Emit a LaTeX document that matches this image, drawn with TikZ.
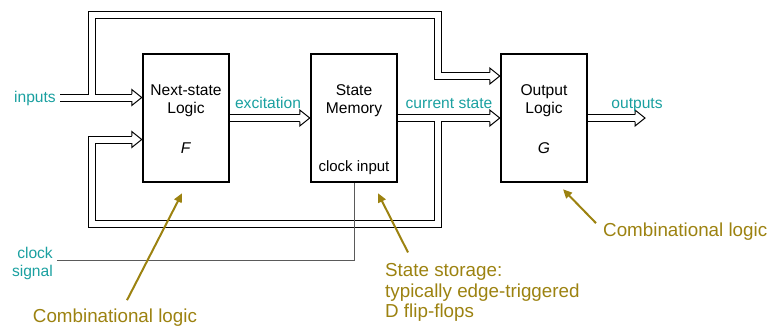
\documentclass[tikz,border=0pt]{standalone}
\usepackage{fontspec}
\setmainfont{Liberation Sans}
\usetikzlibrary{arrows.meta,calc}
\definecolor{sigcol}{RGB}{26,160,160}
\definecolor{notecol}{RGB}{156,130,16}
\definecolor{clkcol}{RGB}{90,90,90}
\tikzset{
  block/.style={draw, line width=2.5pt, minimum width=86pt, minimum height=128pt, inner sep=0pt},
  txt/.style={inner sep=0pt, font=\fontsize{15.6}{18}\selectfont},
  sig/.style={txt, text=sigcol},
  note/.style={inner sep=0pt, text=notecol, font=\fontsize{18.8}{20.5}\selectfont},
  pointer/.style={draw=notecol, line width=2pt, -{Triangle[length=9pt,width=8pt]}},
  clk/.style={draw=clkcol, line width=1pt},
  bus/.style={shorten >=10pt},
  bushead/.pic={
    \fill[white] (-10,-8) -- (0,0) -- (-10,8) -- cycle;
    \draw[line width=1pt] (-10,-3.5) -- (-10,-8) -- (0,0) -- (-10,8) -- (-10,3.5);
  }
}
\newcommand{\busroutes}{%
  \draw[bus] (inp) -- (F.west |- inp);
  \draw[bus] (br1) -- (91.5,14.5) -- (437.5,14.5) -- (437.5,76) -- (G.west |- 0,76);
  \draw[bus] (F.east) -- (SM.west);
  \draw[bus] (SM.east) -- (G.west);
  \draw[bus] (br2) -- (437.5,223.5) -- (91.5,223.5) -- (91.5,139.5) -- (F.west |- 0,139.5);
  \draw[bus] (G.east) -- (outp);
}
\begin{document}
\begin{tikzpicture}[x=1pt,y=-1pt]
  \useasboundingbox (0,0) rectangle (767,327);
  \node[block] (F) at (186,118) {};
  \node[block] (SM) at (354,118) {};
  \node[block] (G) at (544,118) {};
  \coordinate (inp) at (60,97.5);
  \coordinate (br1) at (91.5,97.5);
  \coordinate (br2) at (437.5,118);
  \coordinate (outp) at (645,118);
  \coordinate (clkin) at (57,260);
  \begin{scope}[line width=8pt]
    \busroutes
  \end{scope}
  \begin{scope}[line width=6pt, white]
    \busroutes
  \end{scope}
  \pic at (F.west |- inp) {bushead};
  \pic at (F.west |- 0,139.5) {bushead};
  \pic at (SM.west) {bushead};
  \pic at (G.west) {bushead};
  \pic at (G.west |- 0,76) {bushead};
  \pic at (outp) {bushead};
  \draw[clk] (clkin) -| (SM.south);
  \node[txt, align=center] (Fname) at (186,101) {Next-state\\Logic};
  \node[txt, anchor=base] (Fsym) at (186,153) {\textit{F}};
  \node[txt, align=center] (SMname) at (354,101) {State\\Memory};
  \node[txt, anchor=base, font=\fontsize{15}{18}\selectfont] (SMclk) at (354,171) {clock input};
  \node[txt, align=center] (Gname) at (544,101) {Output\\Logic};
  \node[txt, anchor=base] (Gsym) at (544,153) {\textit{G}};
  \node[sig, anchor=base east] (inlab) at (56,102) {inputs};
  \node[sig, anchor=base] (exlab) at (268,108) {excitation};
  \node[sig, anchor=base] (cslab) at (449,108) {current state};
  \node[sig, anchor=base] (outlab) at (637,108) {outputs};
  \node[sig, anchor=east, align=right] (clklab) at (53,263.5) {clock\\signal};
  \node[note, anchor=base] (comb1) at (115,322) {Combinational logic};
  \node[note, anchor=west, align=left] (store) at (385,292.6) {State storage:\\typically edge-triggered\\D flip-flops};
  \node[note, anchor=base west] (comb2) at (603,236) {Combinational logic};
  \draw[pointer] ($(comb1.north)+(12,-8)$) -- ($(F.south)+(-4,10)$);
  \draw[pointer] ($(store.north west)+(23,-11)$) -- ($(SM.south)+(24,10)$);
  \draw[pointer] ($(comb2.west)+(-7,-8)$) -- ($(G.south)+(19,6)$);
\end{tikzpicture}
\end{document}
